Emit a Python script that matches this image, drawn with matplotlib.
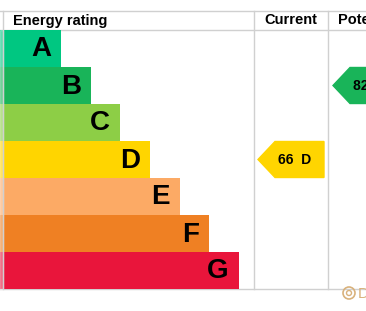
import matplotlib
matplotlib.use('Agg')
import matplotlib.pyplot as plt
from matplotlib.patches import Polygon, Rectangle, Circle

# data
bands = ['A', 'B', 'C', 'D', 'E', 'F', 'G']
colors = ['#00c781', '#19b459', '#8dce46', '#ffd500', '#fcaa65', '#ef8023', '#e9153b']
bar_right = [61, 91, 120, 150, 180, 209, 239]
current_score, current_band = 66, 'D'
potential_score, potential_band = 82, 'B'

plt.rcParams['font.family'] = ['Liberation Sans', 'DejaVu Sans']

fig = plt.figure(figsize=(3.66, 3.11), dpi=100)
ax = fig.add_axes([0, 0, 1, 1])
ax.set_xlim(0, 366)
ax.set_ylim(311, 0)
ax.axis('off')

top, head, row_h = 11, 30, 37
centers = [head + row_h * (i + 0.5) for i in range(len(bands))]
bottom = head + row_h * len(bands)

ax.barh(centers, bar_right, height=row_h, left=0, color=colors, zorder=2)
for c, b, r in zip(centers, bands, bar_right):
    ax.text(r - 10, c + 1, b, ha='right', va='center', fontsize=20,
            fontweight='bold', color='black', zorder=3)
# faded strip at the left border
ax.add_patch(Rectangle((0, head), 3, bottom - head, color='white', alpha=0.35, zorder=3))

# grid lines
lc = '#d0d0d0'
for y in (top, head, bottom):
    ax.plot([0, 366], [y, y], color=lc, lw=1, zorder=1)
for x in (3, 254, 328):
    ax.plot([x, x], [top, bottom], color=lc, lw=1, zorder=4 if x == 3 else 1)

# header
ax.text(13, 20.5, 'Energy rating', ha='left', va='center', fontsize=10.5, fontweight='bold')
ax.text(291, 20.5, 'Current', ha='center', va='center', fontsize=10.5, fontweight='bold')
ax.text(338, 20.5, 'Potential', ha='left', va='center', fontsize=10.5, fontweight='bold')


def arrow(x0, x1, band, score):
    i = bands.index(band)
    c = centers[i]
    y0, y1 = c - row_h / 2 + 0.5, c + row_h / 2 - 0.5
    pts = [(x0, c), (x0 + 17, y0), (x1, y0), (x1, y1), (x0 + 17, y1)]
    ax.add_patch(Polygon(pts, closed=True, color=colors[i], zorder=2))
    ax.text(x0 + 20, c + 0.5, f'{score}  {band}', ha='left', va='center',
            fontsize=10, fontweight='bold', zorder=3)


arrow(258, 324, current_band, current_score)
arrow(333, 399, potential_band, potential_score)

# watermark logo
gold = '#d9b27c'
ax.add_patch(Circle((349, 293), 6, fill=False, ec=gold, lw=1.2, zorder=2))
ax.add_patch(Circle((349, 293), 2.5, fill=False, ec=gold, lw=1, zorder=2))
ax.text(358, 293.5, 'D', ha='left', va='center', fontsize=11, color=gold)

fig.savefig('out.png', dpi=100)
